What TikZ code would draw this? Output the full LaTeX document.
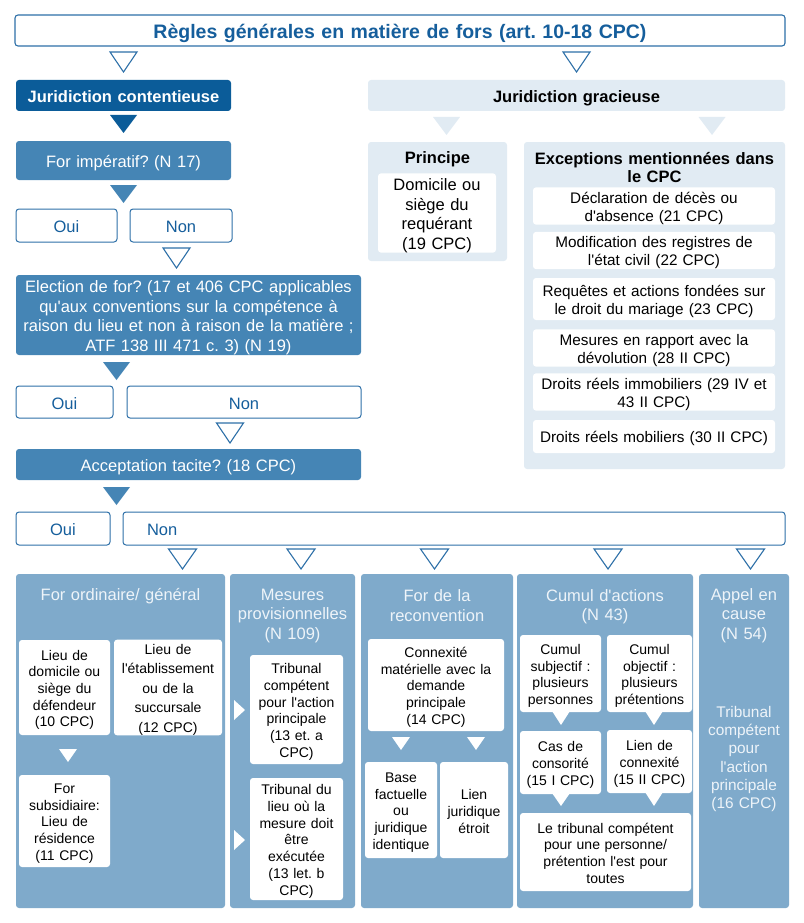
\documentclass[tikz,border=0pt]{standalone}
\usepackage{fontspec}
\setmainfont{Liberation Sans}[Ligatures=TeXOff]
\definecolor{cdark}{HTML}{0B5C99}
\definecolor{cmed}{HTML}{4585B5}
\definecolor{cpanel}{HTML}{7FAACB}
\definecolor{clight}{HTML}{E1EBF3}
\definecolor{cline}{HTML}{2E70A8}
\definecolor{ctext}{HTML}{155E9C}
\definecolor{ctitle}{HTML}{EEF4F9}
\newcommand\fs[2]{\fontsize{#1}{#2}\selectfont}
\frenchspacing
\tikzset{
  pics/tri/.style n args={2}{code={\path[pic actions] (-#1/2,0) -- (#1/2,0) -- (0,#2) -- cycle;}},
  pics/rtri/.style n args={2}{code={\path[pic actions] (0,-#2/2) -- (0,#2/2) -- (#1,0) -- cycle;}}
}

\begin{document}
\begin{tikzpicture}[x=1pt,y=-1pt,
  every node/.style={execute at begin node={\frenchspacing\rule{0pt}{1.05em}},execute at end node={\rule[-0.15em]{0pt}{0pt}}},
  box/.style={rounded corners=3pt,inner sep=0pt,align=center},
  headbox/.style={box,draw=cline,line width=1.1pt,fill=white,text=ctext,font=\bfseries\fs{19.5}{23}},
  darkbox/.style={box,fill=cdark,text=white,font=\bfseries\fs{16.5}{19.5}},
  askbox/.style={box,fill=cmed,text=white,font=\fs{16.5}{19.5}},
  answer/.style={box,draw=cline,line width=1pt,fill=white,text=ctext,font=\fs{16.5}{19.5}},
  lightbox/.style={box,fill=clight,font=\bfseries\fs{16.5}{18.5}},
  panel/.style={box,fill=cpanel},
  ptitle/.style={inner sep=0pt,align=center,text=ctitle,font=\fs{16.5}{19.5}},
  cell/.style={box,fill=white,font=\fs{14}{16.7}},
  excell/.style={box,fill=white,font=\fs{15.3}{18}},
  opentri/.style={draw=cline,line width=1.1pt,fill=white},
]
\useasboundingbox (0,0) rectangle (803,923);

% left branch
\node[headbox,text width=770,minimum height=31] (title) at (400,30.5) {Règles générales en matière de fors (art. 10-18 CPC)};
\node[darkbox,text width=215,minimum height=31] (contentieuse) at (123.5,95.5) {Juridiction contentieuse};
\node[askbox,text width=215,minimum height=39] (imperatif) at (123.5,160.5) {For impératif? (N 17)};
\node[answer,text width=101,minimum height=33] (oui1) at (66.5,225.5) {Oui};
\node[answer,text width=102,minimum height=33] (non1) at (181,225.5) {Non};
\node[askbox,text width=345,minimum height=80] (election) at (188.5,315) {Election de for? (17 et 406 CPC applicables\\qu'aux conventions sur la compétence à\\raison du lieu et non à raison de la matière ;\\ATF 138 III 471 c. 3) (N 19)};
\node[answer,text width=97,minimum height=32] (oui2) at (64.5,402) {Oui};
\node[answer,text width=234,minimum height=32] (non2) at (244,402) {Non};
\node[askbox,text width=345,minimum height=31] (tacite) at (188.5,464.5) {Acceptation tacite? (18 CPC)};
\node[answer,text width=94,minimum height=33] (oui3) at (63,528.5) {Oui};
\node[answer,minimum height=33,inner xsep=24pt,text width=614,align=left] (non3) at (454,528.5) {Non};

\pic[opentri] at (123.5,52) {tri={27}{20}};
\pic[fill=cdark] at (123.5,115) {tri={27}{18}};
\pic[fill=cmed] at (123.5,185) {tri={27}{18}};
\pic[opentri] at (176.5,248) {tri={27}{20}};
\pic[fill=cmed] at (116.5,362) {tri={27}{18}};
\pic[opentri] at (230,423) {tri={27}{20}};
\pic[fill=cmed] at (116.5,487) {tri={27}{18}};

% right branch
\pic[opentri] at (576.5,52) {tri={27}{20}};
\node[lightbox,text width=417,minimum height=31] (gracieuse) at (576.5,95.5) {Juridiction gracieuse};
\pic[fill=clight] at (446.5,117) {tri={27}{18}};
\pic[fill=clight] at (712,117) {tri={27}{18}};
\node[lightbox,minimum width=139,minimum height=119] (principe) at (437.5,201.5) {};
\node[inner sep=0pt,font=\bfseries\fs{16.5}{18.5}] (principet) at (437.5,157) {Principe};
\node[box,fill=white,font=\fs{16.5}{19.5},text width=118,minimum height=78] (domicile) at (437,213) {Domicile ou\\siège du\\requérant\\(19 CPC)};
\node[lightbox,minimum width=261,minimum height=327] (exceptions) at (654.5,305.5) {};
\node[inner sep=0pt,align=center,text width=261,font=\bfseries\fs{16.5}{18.5}] (exceptionst) at (654.5,166) {Exceptions mentionnées dans\\le CPC};
\node[excell,text width=242,minimum height=34] (ex1) at (654,206) {Déclaration de décès ou\\d'absence (21 CPC)};
\node[excell,text width=242,minimum height=35] (ex2) at (654,250.5) {Modification des registres de\\l'état civil (22 CPC)};
\node[excell,text width=242,minimum height=42] (ex3) at (654,299) {Requêtes et actions fondées sur\\le droit du mariage (23 CPC)};
\node[excell,text width=242,minimum height=34] (ex4) at (654,348) {Mesures en rapport avec la\\dévolution (28 II CPC)};
\node[excell,text width=242,minimum height=34] (ex5) at (654,392) {Droits réels immobiliers (29 IV et\\43 II CPC)};
\node[excell,text width=242,minimum height=33] (ex6) at (654,436.5) {Droits réels mobiliers (30 II CPC)};

% bottom panels
\foreach \x in {182.5,301,434.5,608,750.5}
  \pic[opentri] at (\x,549) {tri={28}{20}};
\node[panel,minimum width=209,minimum height=334] (ordinaire) at (120.5,741) {};
\node[panel,minimum width=125,minimum height=334] (mesures) at (292.5,741) {};
\node[panel,minimum width=152,minimum height=334] (reconvention) at (437,741) {};
\node[panel,minimum width=176,minimum height=334] (cumul) at (605,741) {};
\node[panel,minimum width=90,minimum height=334] (appel) at (744,741) {};

\node[ptitle,text width=209] (ordinairet) at (120.5,594) {For ordinaire/ général};
\node[cell,text width=91,minimum height=95] (lieudom) at (64.5,687.5) {Lieu de\\domicile ou\\siège du\\défendeur\\(10 CPC)};
\node[cell,font=\fs{14}{19.5},text width=108,minimum height=95] (lieuetab) at (168,687.5) {Lieu de\\l'établissement\\ou de la\\succursale\\(12 CPC)};
\pic[fill=white] at (68,749) {tri={18}{13}};
\node[cell,text width=91,minimum height=92] (subsid) at (64.5,821) {For\\subsidiaire:\\Lieu de\\résidence\\(11 CPC)};

\node[ptitle,text width=125] (mesurest) at (292.5,613) {Mesures\\provisionnelles\\(N 109)};
\node[cell,text width=93,minimum height=109] (tribaction) at (296.5,709.5) {Tribunal\\compétent\\pour l'action\\principale\\(13 et. a\\CPC)};
\node[cell,text width=93,minimum height=122] (triblieu) at (296.5,839) {Tribunal du\\lieu où la\\mesure doit\\être\\exécutée\\(13 let. b\\CPC)};
\pic[fill=white] at (234,710) {rtri={11}{20}};
\pic[fill=white] at (234,840) {rtri={11}{20}};

\node[ptitle,text width=152] (reconventiont) at (437,604) {For de la\\reconvention};
\node[cell,text width=136,minimum height=92] (connexmat) at (436,685) {Connexité\\matérielle avec la\\demande\\principale\\(14 CPC)};
\pic[fill=white] at (401,737) {tri={18}{13}};
\pic[fill=white] at (476,737) {tri={18}{13}};
\node[cell,text width=72,minimum height=96] (base) at (401,810) {Base\\factuelle\\ou\\juridique\\identique};
\node[cell,text width=68,minimum height=96] (lienjur) at (474,810) {Lien\\juridique\\étroit};

\node[ptitle,text width=176] (cumult) at (605,604) {Cumul d'actions\\(N 43)};
\node[cell,text width=81,minimum height=77] (subjectif) at (560.5,673.5) {Cumul\\subjectif :\\plusieurs\\personnes};
\node[cell,text width=85,minimum height=77] (objectif) at (649.5,673.5) {Cumul\\objectif :\\plusieurs\\prétentions};
\pic[fill=white] at (561,711) {tri={18}{14}};
\pic[fill=white] at (654,711) {tri={18}{14}};
\node[cell,text width=81,minimum height=63] (consorite) at (560.5,762.5) {Cas de\\consorité\\(15 I CPC)};
\node[cell,text width=85,minimum height=63] (connexite) at (649.5,761.5) {Lien de\\connexité\\(15 II CPC)};
\pic[fill=white] at (561,793) {tri={18}{13}};
\pic[fill=white] at (654,792) {tri={18}{14}};
\node[cell,text width=171,minimum height=78] (toutes) at (605.5,852) {Le tribunal compétent\\pour une personne/\\prétention l'est pour\\toutes};

\node[ptitle,text width=90] (appelt) at (744,613) {Appel en\\cause\\(N 54)};
\node[ptitle,text width=90,font=\fs{15.4}{18.3}] (tribappel) at (744,756.5) {Tribunal\\compétent\\pour\\l'action\\principale\\(16 CPC)};
\end{tikzpicture}
\end{document}
